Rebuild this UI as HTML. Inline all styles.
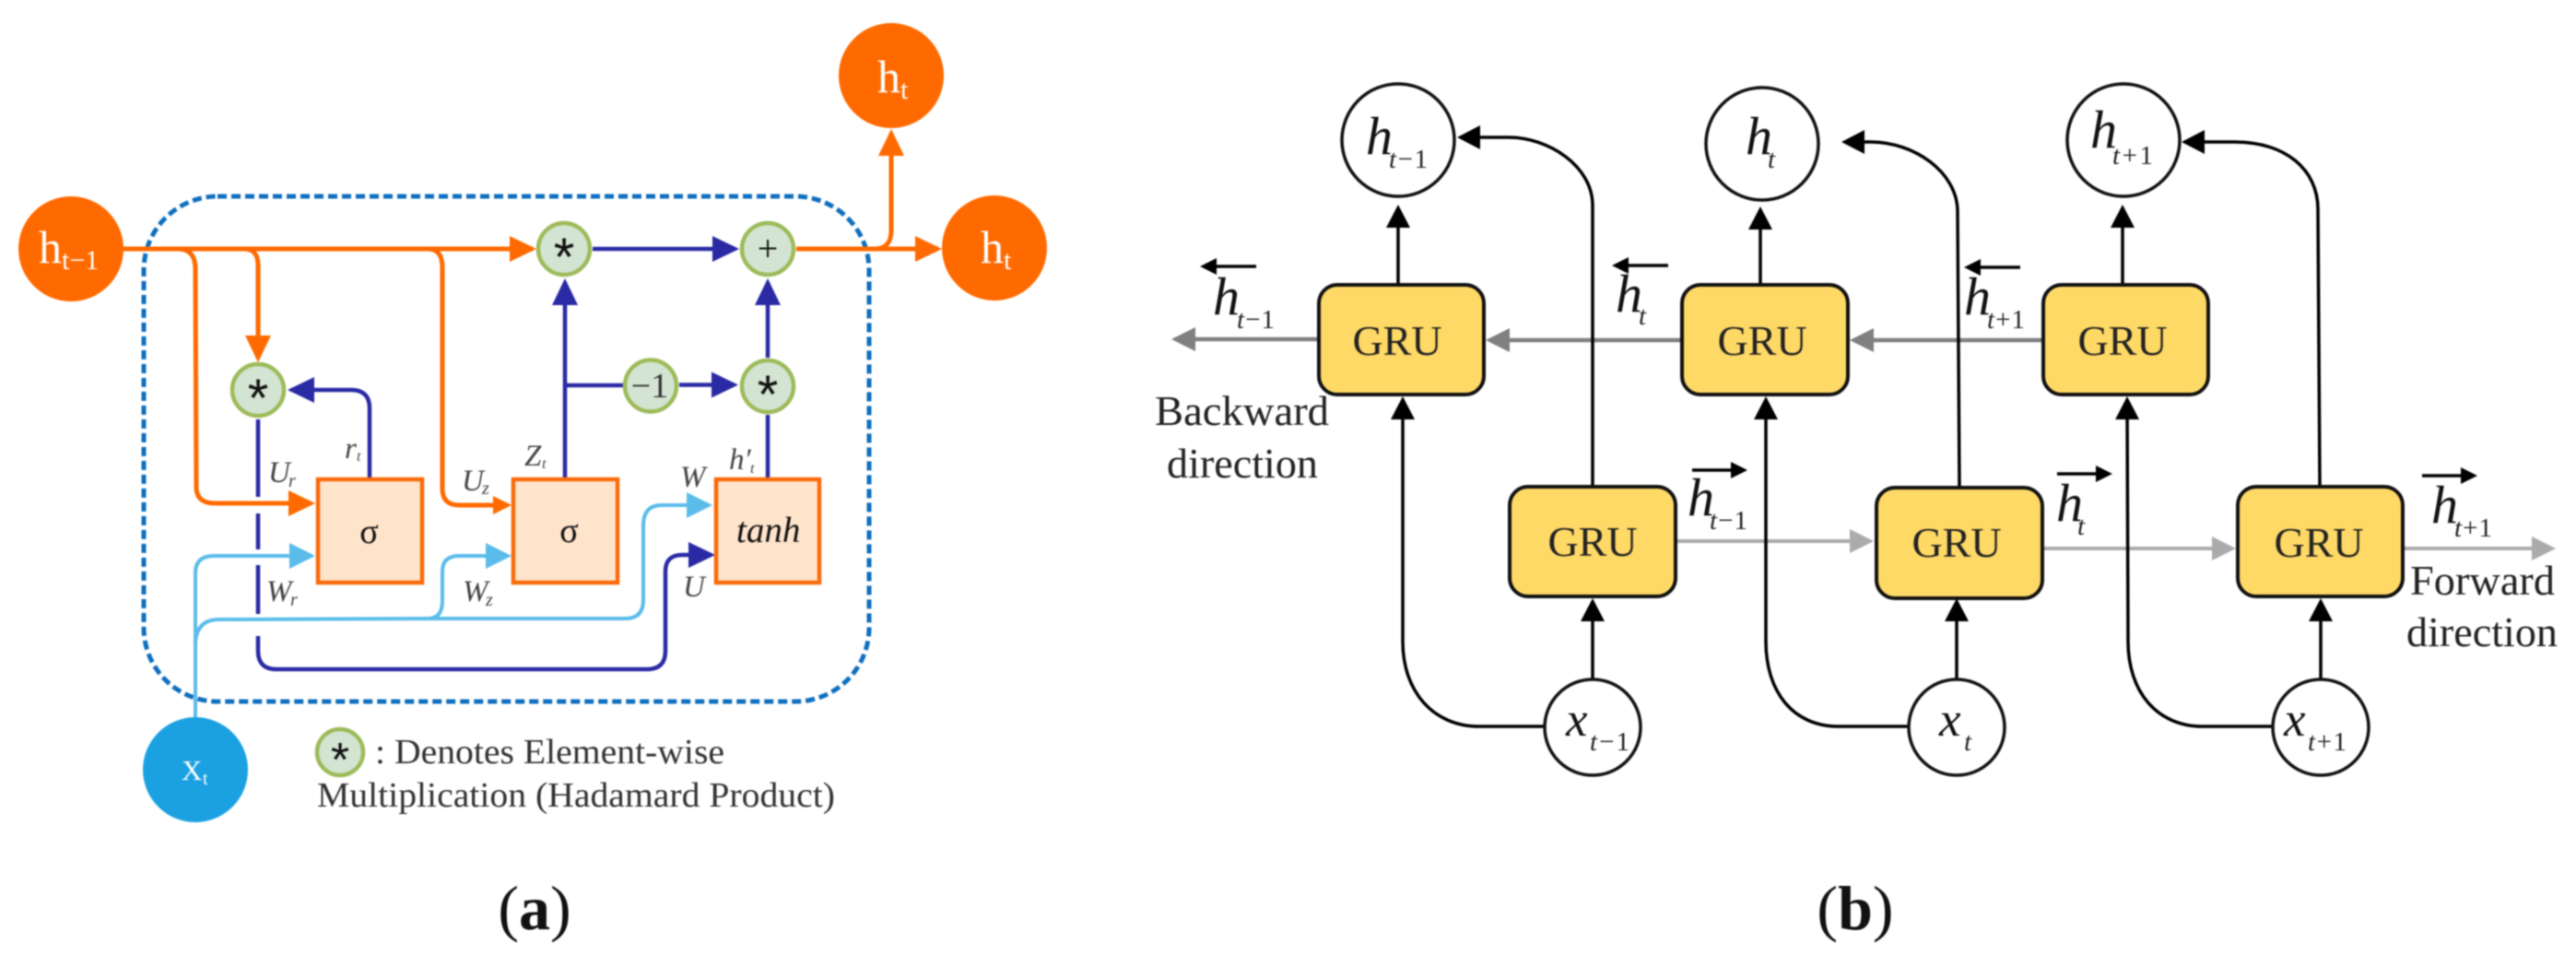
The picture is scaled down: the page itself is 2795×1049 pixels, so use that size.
<!DOCTYPE html>
<html>
<head>
<meta charset="utf-8">
<style>
html,body{margin:0;padding:0;background:#fff;width:2795px;height:1049px;overflow:hidden}
svg{display:block;filter:blur(0.7px)}
text{font-family:"Liberation Serif",serif}
.i{font-style:italic}
.o{fill:none;stroke:#FF6A00;stroke-width:5}
.b{fill:none;stroke:#2A2AA5;stroke-width:4.5}
.l{fill:none;stroke:#5BBCEA;stroke-width:4}
.k{fill:none;stroke:#000;stroke-width:3.5}
.g{fill:none;stroke:#808080;stroke-width:4.5}
.s{fill:none;stroke:#ABABAB;stroke-width:4}
.c{fill:#D3E4D2;stroke:#9DBB5A;stroke-width:4.5}
.box{fill:#FFE4CC;stroke:#FB6A0A;stroke-width:4.5}
.gru{fill:#FFD966;stroke:#111;stroke-width:4}
.wc{fill:#fff;stroke:#111;stroke-width:3.5}
.w{fill:#fff}
.lab{font-size:33px;fill:#444;font-style:italic}
.slab{font-size:20px;fill:#444;font-style:italic}
.mh{font-size:58px;font-style:italic;fill:#111}
.ms{font-size:29px;fill:#222}
.gt{font-size:46px;fill:#222;text-anchor:middle}
.tx{font-size:46px;fill:#222}
.st{font-family:"Liberation Sans",sans-serif;font-size:58px;text-anchor:middle;fill:#111}
</style>
</head>
<body>
<svg width="2795" height="1049" viewBox="0 0 2795 1049" xmlns="http://www.w3.org/2000/svg">
<defs>
<marker id="mo" markerUnits="userSpaceOnUse" markerWidth="32" markerHeight="32" refX="25" refY="14" orient="auto"><path d="M0 0L29 14L0 28Z" fill="#FF6A00"/></marker>
<marker id="mo2" markerUnits="userSpaceOnUse" markerWidth="24" markerHeight="24" refX="16" refY="10" orient="auto"><path d="M0 0L20 10L0 20Z" fill="#FF6A00"/></marker>
<marker id="mb" markerUnits="userSpaceOnUse" markerWidth="32" markerHeight="32" refX="25" refY="14" orient="auto"><path d="M0 0L29 14L0 28Z" fill="#2A2AA5"/></marker>
<marker id="ml" markerUnits="userSpaceOnUse" markerWidth="32" markerHeight="32" refX="24" refY="14" orient="auto"><path d="M0 0L28 14L0 28Z" fill="#5BBCEA"/></marker>
<marker id="mk" markerUnits="userSpaceOnUse" markerWidth="30" markerHeight="30" refX="21" refY="13" orient="auto"><path d="M0 0L25 13L0 26Z" fill="#000"/></marker>
<marker id="mg" markerUnits="userSpaceOnUse" markerWidth="30" markerHeight="30" refX="22" refY="13" orient="auto"><path d="M0 0L26 13L0 26Z" fill="#808080"/></marker>
<marker id="ms" markerUnits="userSpaceOnUse" markerWidth="30" markerHeight="30" refX="22" refY="13" orient="auto"><path d="M0 0L26 13L0 26Z" fill="#ABABAB"/></marker>
<marker id="mh" markerUnits="userSpaceOnUse" markerWidth="22" markerHeight="22" refX="14" refY="9" orient="auto"><path d="M0 0L18 9L0 18Z" fill="#000"/></marker>
</defs>

<!-- Panel a -->
<rect x="156" y="213" width="787" height="548" rx="80" ry="80" fill="none" stroke="#0F6FBF" stroke-width="5" stroke-dasharray="10 5"/>

<!-- blue lower line -->
<path class="b" d="M280 455V539M280 557V596M280 613V666M280 690V706Q280 726 300 726H702Q722 726 722 706V620Q722 602 740 602H772" style="marker-end:url(#mb)"/>
<!-- light blue -->
<path class="l" d="M212 779V622Q212 603 232 603H338" style="marker-end:url(#ml)"/>
<path class="l" d="M212 700Q212 672 238 672L480 671H678Q698 671 698 651V570Q698 548 718 548H769" style="marker-end:url(#ml)"/>
<path class="l" d="M464 671Q480 671 480 652V620Q480 603 498 603H551" style="marker-end:url(#ml)"/>
<!-- orange -->
<path class="o" d="M133 270H578" style="marker-end:url(#mo)"/>
<path class="o" d="M193 270Q212 270 212 292L213 528Q213 546 233 546H338" style="marker-end:url(#mo)"/>
<path class="o" d="M265 270Q280 270 280 288V389" style="marker-end:url(#mo)"/>
<path class="o" d="M464 270Q480 270 480 290V530Q480 548 498 548H551" style="marker-end:url(#mo2)"/>
<path class="o" d="M864 270H1018" style="marker-end:url(#mo)"/>
<path class="o" d="M940 270H949Q967 270 967 250V144" style="marker-end:url(#mo)"/>
<!-- blue -->
<path class="b" d="M401 520V443Q401 423 381 423H316" style="marker-end:url(#mb)"/>
<path class="b" d="M613 520V306" style="marker-end:url(#mb)"/>
<path class="b" d="M613 418H677"/>
<path class="b" d="M737 417.5H797" style="marker-end:url(#mb)"/>
<path class="b" d="M833 520V450"/>
<path class="b" d="M833 388V306" style="marker-end:url(#mb)"/>
<path class="b" d="M643 270H798" style="marker-end:url(#mb)"/>

<!-- orange circles -->
<circle cx="77" cy="270" r="57" fill="#FF6A00"/>
<circle cx="967" cy="82" r="57" fill="#FF6A00"/>
<circle cx="1079" cy="269" r="57" fill="#FF6A00"/>
<circle cx="212" cy="835" r="57" fill="#1BA1E2"/>
<text class="w" x="42" y="285" font-size="50">h</text><text class="w" x="67" y="292" font-size="30">t−1</text>
<text class="w" x="952" y="100" font-size="50">h</text><text class="w" x="977" y="107" font-size="30">t</text>
<text class="w" x="1064" y="285" font-size="50">h</text><text class="w" x="1089" y="292" font-size="30">t</text>
<text class="w" x="197" y="846" font-size="31">X</text><text class="w" x="220" y="851" font-size="20">t</text>

<!-- green circles -->
<circle class="c" cx="612" cy="270" r="28"/>
<circle class="c" cx="833" cy="270" r="28"/>
<circle class="c" cx="280" cy="423" r="28"/>
<circle class="c" cx="706" cy="418.5" r="28"/>
<circle class="c" cx="833" cy="419" r="28"/>
<circle class="c" cx="369" cy="816" r="25"/>
<text class="st" x="612" y="299">*</text>
<text class="st" x="280" y="452">*</text>
<text class="st" x="833" y="448">*</text>
<text class="st" x="369" y="842" style="font-size:52px">*</text>
<text x="833" y="283" font-size="40" text-anchor="middle" fill="#111">+</text>
<text x="705" y="431" font-size="38" text-anchor="middle" fill="#333">−1</text>

<!-- boxes -->
<rect class="box" x="345" y="520" width="113" height="112"/>
<rect class="box" x="557" y="520" width="113" height="112"/>
<rect class="box" x="777" y="520" width="112" height="112"/>
<text x="400.5" y="589" font-size="38" text-anchor="middle" fill="#111">σ</text>
<text x="617.5" y="588" font-size="38" text-anchor="middle" fill="#111">σ</text>
<text class="i" x="799" y="588" font-size="39" fill="#111">tanh</text>

<!-- small italic labels -->
<text class="lab" x="291" y="523">U</text><text class="slab" x="313" y="528">r</text>
<text class="lab" x="374" y="497">r</text><text class="slab" x="387" y="500" style="font-size:16px">t</text>
<text class="lab" x="569" y="505">Z</text><text class="slab" x="588" y="508" style="font-size:16px">t</text>
<text class="lab" x="501" y="532">U</text><text class="slab" x="523" y="536">z</text>
<text class="lab" x="738" y="528">W</text>
<text class="lab" x="791" y="509">h′</text><text class="slab" x="814" y="513" style="font-size:16px">t</text>
<text class="lab" x="741" y="647">U</text>
<text class="lab" x="289" y="652">W</text><text class="slab" x="315" y="657">r</text>
<text class="lab" x="502" y="652">W</text><text class="slab" x="527" y="657">z</text>

<text class="tx" x="407" y="828" style="font-size:38px;fill:#333" textLength="379" lengthAdjust="spacingAndGlyphs">: Denotes Element-wise</text>
<text class="tx" x="344" y="875" style="font-size:38px;fill:#333" textLength="562" lengthAdjust="spacingAndGlyphs">Multiplication (Hadamard Product)</text>

<text x="580" y="1008" font-size="68" text-anchor="middle" fill="#111">(<tspan font-weight="bold">a</tspan>)</text>

<!-- Panel b lines -->
<path class="g" d="M1431 368H1275" style="marker-end:url(#mg)"/>
<path class="g" d="M1825 369H1616" style="marker-end:url(#mg)"/>
<path class="g" d="M2217 369H2011" style="marker-end:url(#mg)"/>
<path class="s" d="M1818 587H2029" style="marker-end:url(#ms)"/>
<path class="s" d="M2216 595H2422" style="marker-end:url(#ms)"/>
<path class="s" d="M2607 595H2769" style="marker-end:url(#ms)"/>

<path class="k" d="M1517 309V226" style="marker-end:url(#mk)"/>
<path class="k" d="M1910 309V228" style="marker-end:url(#mk)"/>
<path class="k" d="M2303 309V226" style="marker-end:url(#mk)"/>
<path class="k" d="M1728 736V653" style="marker-end:url(#mk)"/>
<path class="k" d="M2123 736V653" style="marker-end:url(#mk)"/>
<path class="k" d="M2518 736V653" style="marker-end:url(#mk)"/>

<path class="k" d="M1728 528V223C1728 180 1680 149 1637 149H1585" style="marker-end:url(#mk)"/>
<path class="k" d="M2126 528L2124 230C2124 186 2076 154 2030 154H2002" style="marker-end:url(#mk)"/>
<path class="k" d="M2517 528L2515 227C2515 184 2480 154 2425 154H2371" style="marker-end:url(#mk)"/>

<path class="k" d="M1678 788H1605C1555 788 1522 750 1522 696V434" style="marker-end:url(#mk)"/>
<path class="k" d="M2072 788H1995C1945 788 1916 750 1916 696V434" style="marker-end:url(#mk)"/>
<path class="k" d="M2466 788H2390C2340 788 2309 750 2309 696L2308 434" style="marker-end:url(#mk)"/>

<!-- GRU -->
<rect class="gru" x="1431" y="309" width="179" height="119" rx="20"/>
<rect class="gru" x="1825" y="309" width="180" height="119" rx="20"/>
<rect class="gru" x="2217" y="309" width="179" height="119" rx="20"/>
<rect class="gru" x="1638" y="528" width="180" height="119" rx="20"/>
<rect class="gru" x="2036" y="529" width="180" height="120" rx="20"/>
<rect class="gru" x="2428" y="528" width="179" height="119" rx="20"/>
<text class="gt" x="1516" y="385">GRU</text>
<text class="gt" x="1912" y="385">GRU</text>
<text class="gt" x="2303" y="385">GRU</text>
<text class="gt" x="1728" y="603">GRU</text>
<text class="gt" x="2123" y="604">GRU</text>
<text class="gt" x="2516" y="604">GRU</text>

<!-- circles -->
<circle class="wc" cx="1517" cy="152" r="61"/>
<circle class="wc" cx="1912" cy="156" r="61"/>
<circle class="wc" cx="2304" cy="152" r="61"/>
<circle class="wc" cx="1728" cy="789" r="52"/>
<circle class="wc" cx="2123" cy="789" r="52"/>
<circle class="wc" cx="2518" cy="789" r="52"/>

<text class="mh" x="1482" y="167">h</text><text class="ms" x="1507" y="182" textLength="42"><tspan class="i">t</tspan>−1</text>
<text class="mh" x="1894" y="167">h</text><text class="ms i" x="1918" y="182">t</text>
<text class="mh" x="2268" y="160">h</text><text class="ms" x="2292" y="178" textLength="44"><tspan class="i">t</tspan>+1</text>

<text class="mh" x="1699" y="798" style="font-size:53px">x</text><text class="ms" x="1725" y="814" textLength="43"><tspan class="i">t</tspan>−1</text>
<text class="mh" x="2104" y="798" style="font-size:53px">x</text><text class="ms i" x="2131" y="814">t</text>
<text class="mh" x="2478" y="798" style="font-size:53px">x</text><text class="ms" x="2504" y="814" textLength="42"><tspan class="i">t</tspan>+1</text>

<!-- over-arrow labels -->
<path class="k" d="M1363 289H1306" style="marker-end:url(#mh)"/>
<text class="mh" x="1316" y="341">h</text><text class="ms" x="1342" y="356" textLength="41"><tspan class="i">t</tspan>−1</text>
<path class="k" d="M1810 288H1753" style="marker-end:url(#mh)"/>
<text class="mh" x="1753" y="338">h</text><text class="ms i" x="1778" y="352">t</text>
<path class="k" d="M2192 290H2135" style="marker-end:url(#mh)"/>
<text class="mh" x="2131" y="341">h</text><text class="ms" x="2156" y="356" textLength="41"><tspan class="i">t</tspan>+1</text>

<path class="k" d="M1836 510H1892" style="marker-end:url(#mh)"/>
<text class="mh" x="1831" y="559">h</text><text class="ms" x="1855" y="574" textLength="41"><tspan class="i">t</tspan>−1</text>
<path class="k" d="M2232 514H2288" style="marker-end:url(#mh)"/>
<text class="mh" x="2231" y="565">h</text><text class="ms i" x="2254" y="580">t</text>
<path class="k" d="M2628 516H2684" style="marker-end:url(#mh)"/>
<text class="mh" x="2638" y="567">h</text><text class="ms" x="2663" y="582" textLength="41"><tspan class="i">t</tspan>+1</text>

<text class="tx" x="1253" y="461" textLength="189" lengthAdjust="spacingAndGlyphs">Backward</text>
<text class="tx" x="1266" y="518" textLength="164" lengthAdjust="spacingAndGlyphs">direction</text>
<text class="tx" x="2615" y="645" textLength="157" lengthAdjust="spacingAndGlyphs">Forward</text>
<text class="tx" x="2611" y="701" textLength="164" lengthAdjust="spacingAndGlyphs">direction</text>

<text x="2013" y="1008" font-size="68" text-anchor="middle" fill="#111">(<tspan font-weight="bold">b</tspan>)</text>
</svg>
</body>
</html>
